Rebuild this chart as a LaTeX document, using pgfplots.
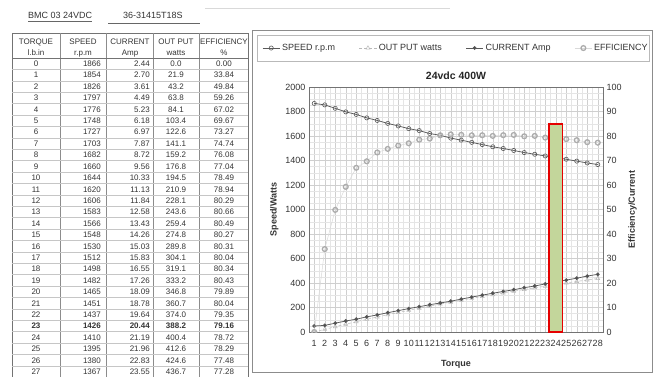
\documentclass[border=0pt]{standalone}
\usepackage{pgfplots}
\pgfplotsset{compat=1.18}
\usepackage{pgfplotstable}
\usepackage{fontspec}
\setmainfont{Liberation Sans}

\definecolor{barfill}{HTML}{C3D69B}

\pgfplotstableread{
k t s c o e
1 0 1866 2.44 0.0 0.00
2 1 1854 2.70 21.9 33.84
3 2 1826 3.61 43.2 49.84
4 3 1797 4.49 63.8 59.26
5 4 1776 5.23 84.1 67.02
6 5 1748 6.18 103.4 69.67
7 6 1727 6.97 122.6 73.27
8 7 1703 7.87 141.1 74.74
9 8 1682 8.72 159.2 76.08
10 9 1660 9.56 176.8 77.04
11 10 1644 10.33 194.5 78.49
12 11 1620 11.13 210.9 78.94
13 12 1606 11.84 228.1 80.29
14 13 1583 12.58 243.6 80.66
15 14 1566 13.43 259.4 80.49
16 15 1548 14.26 274.8 80.27
17 16 1530 15.03 289.8 80.31
18 17 1512 15.83 304.1 80.04
19 18 1498 16.55 319.1 80.34
20 19 1482 17.26 333.2 80.43
21 20 1465 18.09 346.8 79.89
22 21 1451 18.78 360.7 80.04
23 22 1437 19.64 374.0 79.35
24 23 1426 20.44 388.2 79.16
25 24 1410 21.19 400.4 78.72
26 25 1395 21.96 412.6 78.29
27 26 1380 22.83 424.6 77.48
28 27 1367 23.55 436.7 77.28
}\motordata

\pgfplotsset{
 speedst/.style={draw=black!65, line width=0.75pt, mark=o, mark size=2.1pt, mark options={fill=white, line width=0.6pt}},
 outst/.style={draw=gray!55, line width=0.5pt, densely dashed, mark=triangle, mark size=2.3pt, mark options={solid, fill=white, line width=0.5pt}},
 curst/.style={draw=black!65, line width=0.75pt, mark=*, mark size=1.5pt, mark options={fill=black!70}},
 effst/.style={draw=gray!30, line width=0.5pt, mark=o, mark size=2.4pt, mark options={draw=gray!65, line width=1.3pt}},
}

\begin{document}
\begin{tikzpicture}
\useasboundingbox (0,0) rectangle (656pt,-377pt);

\begin{scope}[x=1pt,y=-1pt, font=\fontsize{8}{9}\selectfont, text=black!80]
 % heading
 \node[font=\fontsize{9}{10}\selectfont, anchor=base west, inner sep=0pt] at (28,19) {BMC 03 24VDC};
 \draw[black!60, line width=0.6pt] (28,21.5) -- (92,21.5);
 \node[font=\fontsize{9}{10}\selectfont, anchor=base west, inner sep=0pt] at (123,19) {36-31415T18S};
 \draw[black!60, line width=0.6pt] (108,23.5) -- (200,23.5);
 \draw[gray!30, line width=0.4pt] (205,8) -- (450,8);
 % table frame
 \draw[black!55, line width=0.7pt] (12,33) rectangle (248,385);
 \foreach \xx in {60,106,153,199} \draw[black!45, line width=0.5pt] (\xx,33) -- (\xx,385);
 \draw[black!55, line width=0.7pt] (12,58) -- (248,58);
 \foreach \n in {1,...,27} \draw[gray!45, line width=0.4pt] (12,{58+11.4*\n}) -- (248,{58+11.4*\n});
 % header
 \foreach \cx/\la/\lb in {36/TORQUE/l.b.in, 83/SPEED/r.p.m, 130/CURRENT/Amp, 176/OUT PUT/watts, 224/EFFICIENCY/\%} {
   \node[anchor=base, inner sep=0pt] at (\cx,45) {\la};
   \node[anchor=base, inner sep=0pt] at (\cx,55.5) {\lb};
 }
 % rows
 \foreach \t/\s/\c/\o/\e [count=\n from 0] in {
 0/1866/2.44/0.0/0.00, 1/1854/2.70/21.9/33.84, 2/1826/3.61/43.2/49.84, 3/1797/4.49/63.8/59.26,
 4/1776/5.23/84.1/67.02, 5/1748/6.18/103.4/69.67, 6/1727/6.97/122.6/73.27, 7/1703/7.87/141.1/74.74,
 8/1682/8.72/159.2/76.08, 9/1660/9.56/176.8/77.04, 10/1644/10.33/194.5/78.49, 11/1620/11.13/210.9/78.94,
 12/1606/11.84/228.1/80.29, 13/1583/12.58/243.6/80.66, 14/1566/13.43/259.4/80.49, 15/1548/14.26/274.8/80.27,
 16/1530/15.03/289.8/80.31, 17/1512/15.83/304.1/80.04, 18/1498/16.55/319.1/80.34, 19/1482/17.26/333.2/80.43,
 20/1465/18.09/346.8/79.89, 21/1451/18.78/360.7/80.04, 22/1437/19.64/374.0/79.35, 23/1426/20.44/388.2/79.16,
 24/1410/21.19/400.4/78.72, 25/1395/21.96/412.6/78.29, 26/1380/22.83/424.6/77.48, 27/1367/23.55/436.7/77.28} {
   \pgfmathsetmacro\yy{66.6+11.4*\n}
   \ifnum\n=23 \def\ff{\bfseries}\else\def\ff{}\fi
   \node[anchor=base, inner sep=0pt] at (36,\yy) {\ff\t};
   \node[anchor=base east, inner sep=0pt] at (101,\yy) {\ff\s};
   \node[anchor=base east, inner sep=0pt] at (150,\yy) {\ff\c};
   \node[anchor=base, inner sep=0pt] at (176,\yy) {\ff\o};
   \node[anchor=base, inner sep=0pt] at (224,\yy) {\ff\e};
 }
 % chart panel
 \draw[black!45, line width=0.6pt] (252,30) rectangle (652,372);
 \draw[gray!55, line width=0.5pt] (257,35) rectangle (649,61);
\end{scope}

\begin{axis}[
 at={(309pt,-332pt)}, anchor=south west, scale only axis,
 width=294pt, height=245pt,
 xmin=0.5, xmax=28.5, ymin=0, ymax=2000,
 xtick={1,...,28}, ytick={0,200,...,2000},
 minor x tick num=1, minor y tick num=3,
 grid=both,
 major grid style={gray!38, line width=0.4pt},
 minor grid style={gray!20, line width=0.3pt},
 axis line style={black!55, line width=0.8pt},
 major tick length=0pt, minor tick length=0pt,
 tick label style={font=\fontsize{9}{10}\selectfont, text=black!80},
 xticklabel style={inner xsep=0pt, yshift=-5pt},
 /pgf/number format/assume math mode=true,
 /pgf/number format/1000 sep={},
 title={24vdc 400W},
 title style={font=\fontsize{10.5}{12}\selectfont\bfseries, text=black!85, yshift=-2pt},
 xlabel={Torque}, ylabel={Speed/Watts},
 label style={font=\fontsize{9}{10}\selectfont\bfseries, text=black!80},
 xlabel style={yshift=-7pt},
 legend style={at={(0.50,1.159)}, anchor=center, legend columns=4, draw=none, fill=none,
   font=\fontsize{9}{10}\selectfont, text=black!80,
   /tikz/every even column/.append style={column sep=22pt}},
 legend cell align=left,
 legend entries={SPEED r.p.m, OUT PUT watts, CURRENT Amp, EFFICIENCY},
 clip marker paths=true,
]
\addplot[speedst] table[x=k, y=s] {\motordata};
\addplot[outst] table[x=k, y=o] {\motordata};
\addlegendimage{curst}
\addlegendimage{effst}
\end{axis}

\begin{axis}[
 at={(309pt,-332pt)}, anchor=south west, scale only axis,
 width=294pt, height=245pt,
 xmin=0.5, xmax=28.5, ymin=0, ymax=100,
 ytick={0,10,...,100},
 axis y line*=right, axis x line=none,
 axis line style={black!55, line width=0.8pt},
 major tick length=0pt,
 tick label style={font=\fontsize{9}{10}\selectfont, text=black!80},
 /pgf/number format/assume math mode=true,
 ylabel={Efficiency/Current},
 label style={font=\fontsize{9}{10}\selectfont\bfseries, text=black!80},
 clip marker paths=true,
]
\addplot[curst] table[x=k, y=c] {\motordata};
\addplot[effst] table[x=k, y=e] {\motordata};
\addplot[ybar, bar width=1.3, fill=barfill, draw=red!90!black, line width=1.8pt] coordinates {(24,85)};
\end{axis}
\end{tikzpicture}
\end{document}
